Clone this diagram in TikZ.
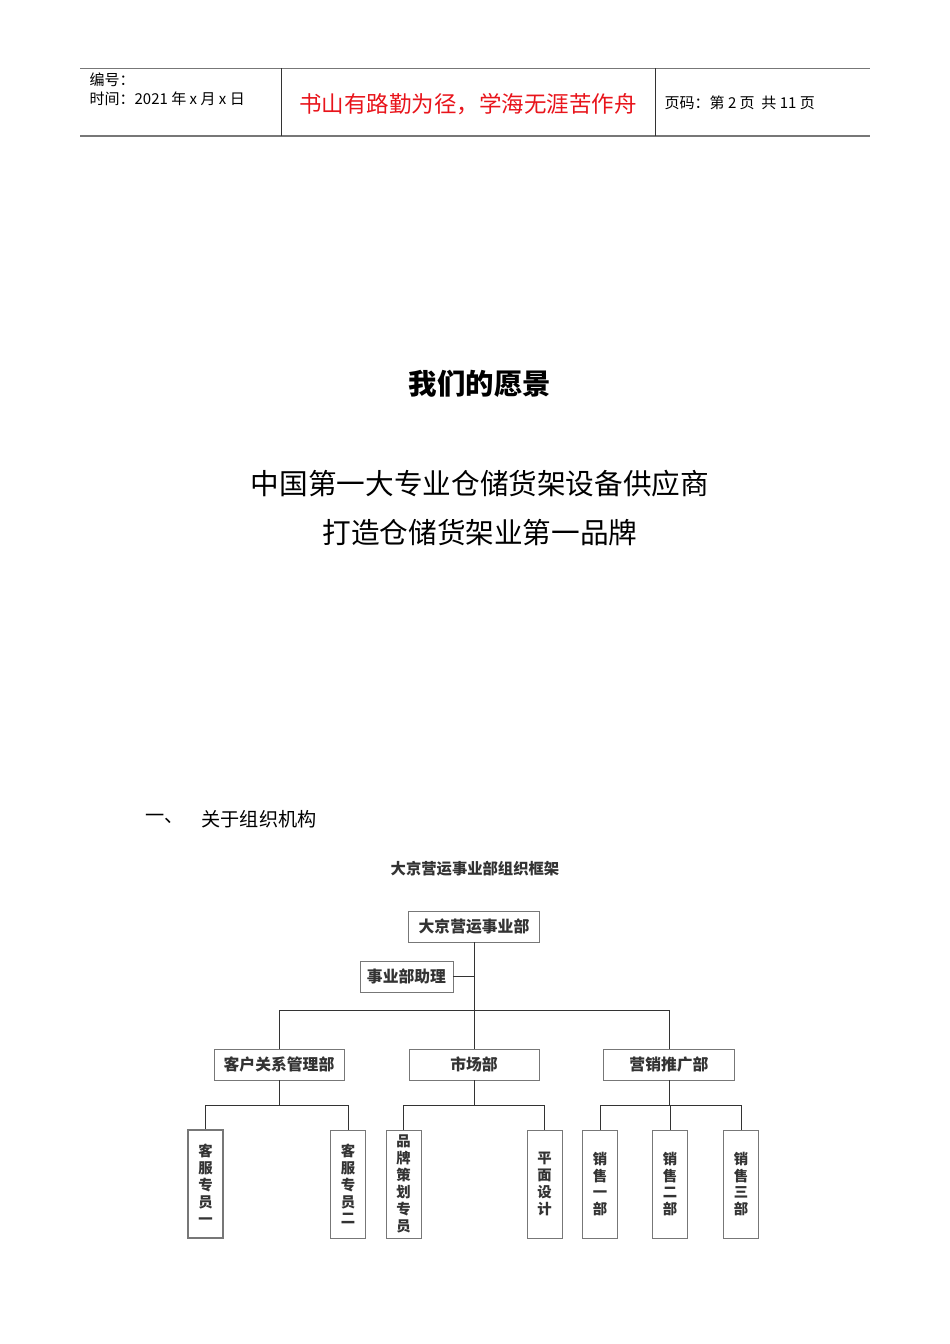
\documentclass[tikz,border=0pt]{standalone}
\usepackage{fontspec}
\setmainfont{Noto Sans CJK SC}
\usepackage{tikz}
\usetikzlibrary{positioning}
\definecolor{pageRed}{HTML}{E8141B}
\definecolor{chartGrey}{HTML}{777777}
\definecolor{chartText}{HTML}{333333}
\newcommand\pxu{0.6263pt}

\begin{document}
\begin{tikzpicture}[x=0.6263pt, y=-0.6263pt,
  unit/.style={draw=chartGrey, line width=0.6pt, fill=white, inner sep=0pt,
    minimum width=131*\pxu, minimum height=31*\pxu,
    font=\fontsize{9.9}{11}\selectfont\bfseries, text=chartText},
  leaf/.style={draw=chartGrey, line width=0.6pt, fill=white, inner sep=0pt,
    minimum width=35*\pxu, minimum height=108*\pxu, align=center,
    font=\fontsize{9}{10.6}\selectfont\bfseries, text=chartText},
  link/.style={chartText, line width=0.6pt},
  head/.style={anchor=west, font=\fontsize{9.4}{11}\selectfont}]

\useasboundingbox (0,0) rectangle (950,1344);

% page header
\draw[chartGrey, line width=0.6pt] (80,68) -- (870,68);
\draw[chartGrey, line width=1.2pt] (80,136) -- (870,136);
\draw[chartText, line width=0.6pt] (281,68) -- (281,136);
\draw[chartText, line width=0.6pt] (655,68) -- (655,136);
\node[head] (num)  at (84,80)  {编号：};
\node[head] (date) at (84,99)  {时间：2021 年 x 月 x 日};
\node[font=\fontsize{14.1}{16}\selectfont, text=pageRed] (motto)
  at (468,104) {书山有路勤为径，学海无涯苦作舟};
\node[head] (page) at (659,103) {页码：第 2 页\ \ 共 11 页};

% vision
\node[font=\fontsize{17.8}{20}\selectfont\bfseries] (vision) at (480,384) {我们的愿景};
\node[font=\fontsize{17.95}{20}\selectfont] (goal1) at (480,484) {中国第一大专业仓储货架设备供应商};
\node[font=\fontsize{17.95}{20}\selectfont] (goal2) at (480,533) {打造仓储货架业第一品牌};

% section
\node[anchor=west, font=\fontsize{12}{14}\selectfont] (secnum) at (140,819) {一、};
\node[anchor=west, font=\fontsize{12}{14}\selectfont] (sec) at (196,819) {关于组织机构};

% chart
\node[font=\fontsize{9.6}{11}\selectfont\bfseries, text=chartText] (title) at (475,869)
  {大京营运事业部组织框架};

\node[unit] (top) at (474,926.5) {大京营运事业部};
\node[unit, minimum width=93*\pxu] (assist) at (406.5,976.5) {事业部助理};

\node[unit, minimum width=130*\pxu] (crm) at (279,1064.5) {客户关系管理部};
\node[unit, minimum width=130*\pxu] (mkt) at (474,1064.5) {市场部};
\node[unit, minimum width=131*\pxu] (sale) at (669,1064.5) {营销推广部};

\node[leaf, line width=1.2pt] (cs1) at (205.5,1184) {客\\服\\专\\员\\一};
\node[leaf] (cs2)  at (348,1184)   {客\\服\\专\\员\\二};
\node[leaf] (brand) at (403.5,1184) {品\\牌\\策\\划\\专\\员};
\node[leaf] (design) at (544.5,1184) {平\\面\\设\\计};
\node[leaf] (s1) at (600,1184) {销\\售\\一\\部};
\node[leaf] (s2) at (670,1184) {销\\售\\二\\部};
\node[leaf] (s3) at (741,1184) {销\\售\\三\\部};

\coordinate (hub) at (474,1010);
\draw[link] (top.south) -- (hub);
\draw[link] (assist.east) -- (assist.east -| top.south);
\draw[link] (crm.north) |- (hub) -| (sale.north);
\draw[link] (hub) -- (mkt.north);

\coordinate (crmbus) at (279,1105);
\coordinate (mktbus) at (474,1105);
\coordinate (salebus) at (669,1105);
\draw[link] (crm.south) -- (crmbus);
\draw[link] (cs1.north) |- (crmbus) -| (cs2.north);
\draw[link] (mkt.south) -- (mktbus);
\draw[link] (brand.north) |- (mktbus) -| (design.north);
\draw[link] (sale.south) -- (salebus);
\draw[link] (s1.north) |- (salebus) -| (s3.north);
\draw[link] (s2.north) -- (s2.north |- salebus);
\end{tikzpicture}
\end{document}
